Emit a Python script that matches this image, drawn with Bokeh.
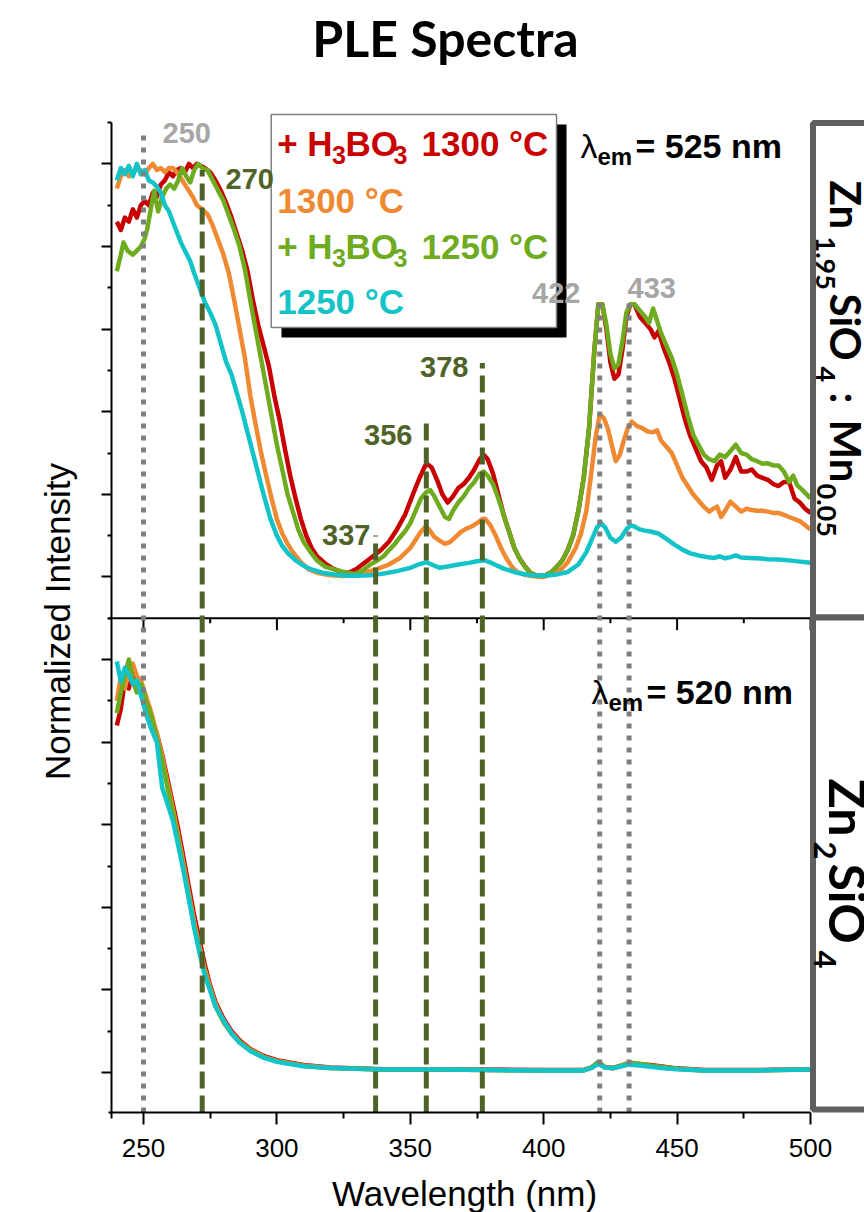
import math
from bokeh.plotting import figure
from bokeh.models import Range1d, FixedTicker, Label
from bokeh.embed import file_html
from bokeh.resources import INLINE

# ---------------- data ----------------
# top panel: Zn1.95SiO4:Mn0.05, lambda_em = 525 nm
red_top_x = [240, 241.5, 243, 244.5, 246, 247.5, 249, 250.5, 252, 253.5, 255, 256.5, 258, 259.5, 261, 262.5, 264, 265.5, 267, 268.5, 270, 271.5, 273, 275, 277, 279, 281, 283, 285, 287, 289, 291, 293, 295, 297, 299, 301, 303, 305, 307, 309, 311, 313, 315, 318, 321, 324, 327, 330, 333, 336, 339, 342, 345, 348, 351, 353.5, 356, 358, 360, 362, 364, 366, 368, 370, 372, 374, 376, 377.5, 379, 381, 383, 385, 387, 389, 391, 393, 395, 397, 399, 401, 403, 405, 407, 409, 411, 413, 415, 417, 419, 420.5, 422, 423.5, 425, 426.5, 428, 429.5, 431, 432.5, 434, 436, 438, 440, 441.5, 443, 445, 447, 449, 451, 453, 455, 457, 459, 461, 463, 465, 466.5, 468, 470, 472, 474, 476, 478, 480, 482, 484, 486, 488, 490, 492, 494, 496, 498, 500]
red_top_y = [0.86, 0.84, 0.87, 0.86, 0.89, 0.87, 0.90, 0.91, 0.90, 0.93, 0.92, 0.95, 0.96, 0.98, 0.97, 0.985, 0.99, 0.98, 1.0, 0.99, 1.0, 0.995, 0.99, 0.98, 0.96, 0.935, 0.905, 0.87, 0.83, 0.79, 0.74, 0.67, 0.61, 0.56, 0.51, 0.44, 0.38, 0.31, 0.245, 0.19, 0.14, 0.10, 0.07, 0.05, 0.033, 0.02, 0.012, 0.01, 0.02, 0.035, 0.05, 0.065, 0.085, 0.115, 0.15, 0.2, 0.24, 0.275, 0.265, 0.235, 0.2, 0.18, 0.195, 0.215, 0.225, 0.24, 0.26, 0.285, 0.296, 0.285, 0.25, 0.2, 0.15, 0.11, 0.07, 0.044, 0.025, 0.01, 0.004, 0.002, 0.005, 0.012, 0.025, 0.04, 0.065, 0.1, 0.16, 0.24, 0.36, 0.55, 0.66, 0.66, 0.6, 0.52, 0.48, 0.49, 0.55, 0.63, 0.66, 0.66, 0.63, 0.615, 0.60, 0.58, 0.595, 0.554, 0.52, 0.48, 0.43, 0.38, 0.34, 0.31, 0.28, 0.265, 0.235, 0.27, 0.28, 0.24, 0.26, 0.29, 0.255, 0.255, 0.26, 0.245, 0.24, 0.235, 0.225, 0.22, 0.23, 0.23, 0.19, 0.18, 0.165, 0.155]

orange_top_x = [240, 241.5, 243, 244.5, 246, 247.5, 249, 250.5, 252, 253.5, 255, 256.5, 258, 259.5, 261, 262.5, 264, 265.5, 267, 268.5, 270, 272, 274, 276, 278, 280, 282, 284, 286, 288, 290, 292, 294, 296, 298, 300, 302, 304, 306, 309, 312, 315, 320, 325, 330, 334, 338, 342, 346, 350, 352, 354, 355.7, 357, 359, 361, 363, 365, 367, 369, 371, 373, 375, 377, 378, 380, 382, 384, 386, 388, 390, 393, 397, 400, 403, 406, 409, 412, 414, 416, 418, 419.5, 421, 422.5, 424, 425.5, 427, 428.5, 430, 431.5, 433, 435, 437, 439, 441, 442.5, 444, 446, 448, 450, 452, 454, 456, 458, 460, 462, 463.5, 465, 466.5, 468, 470, 472, 474, 476, 478, 480, 482, 484, 486, 488, 490, 492, 494, 496, 498, 500]
orange_top_y = [0.94, 0.97, 0.985, 0.97, 0.975, 0.99, 0.985, 0.975, 0.99, 1.0, 0.985, 0.99, 0.98, 0.99, 0.99, 0.98, 0.966, 0.95, 0.935, 0.92, 0.90, 0.89, 0.878, 0.85, 0.815, 0.78, 0.735, 0.67, 0.6, 0.53, 0.44, 0.37, 0.303, 0.245, 0.19, 0.14, 0.105, 0.08, 0.06, 0.035, 0.018, 0.01, 0.004, 0.002, 0.006, 0.012, 0.02, 0.03, 0.045, 0.07, 0.09, 0.11, 0.121, 0.115, 0.097, 0.088, 0.08, 0.085, 0.097, 0.109, 0.117, 0.122, 0.13, 0.14, 0.141, 0.125, 0.1, 0.07, 0.045, 0.025, 0.012, 0.005, 0.001, 0.0, 0.006, 0.015, 0.035, 0.07, 0.105, 0.16, 0.26, 0.34, 0.393, 0.385, 0.36, 0.32, 0.28, 0.295, 0.33, 0.36, 0.376, 0.365, 0.36, 0.352, 0.35, 0.355, 0.33, 0.315, 0.3, 0.27, 0.24, 0.22, 0.2, 0.185, 0.17, 0.158, 0.165, 0.17, 0.145, 0.16, 0.182, 0.17, 0.158, 0.165, 0.162, 0.16, 0.16, 0.158, 0.155, 0.155, 0.15, 0.145, 0.14, 0.135, 0.125, 0.115]

green_top_x = [240, 241.5, 242.5, 244, 246, 247.5, 249, 250.5, 251.5, 253, 254, 255.5, 257, 258.5, 260, 261.5, 263, 264.5, 266, 267.5, 269, 270.5, 272, 274, 276, 278, 280, 282, 284, 286, 288, 290, 292, 294, 296, 298, 300, 302, 304, 306, 308, 310, 312.6, 315, 318, 322, 326, 329, 332, 335, 337, 340, 342, 344, 346, 348, 350, 352, 354, 356, 357.5, 359, 361, 363, 364.5, 366, 368, 370, 372, 374, 376, 377.5, 379, 381, 383, 385, 387, 389, 391, 393, 395, 397, 399, 401, 403, 405, 407, 409, 411, 413, 415, 417, 419, 420.5, 422, 423.5, 425, 426.5, 428, 429.5, 431, 432.5, 434, 436, 438, 439.5, 441, 442.5, 444, 446, 448, 450, 452, 454, 456, 458, 460, 462, 464, 466, 468, 470, 472, 474, 476, 478, 480, 482, 484, 486, 488, 490, 492, 493.5, 495, 497, 500]
green_top_y = [0.74, 0.78, 0.81, 0.79, 0.78, 0.79, 0.80, 0.82, 0.845, 0.90, 0.935, 0.885, 0.92, 0.94, 0.95, 0.94, 0.96, 0.99, 0.97, 0.955, 0.985, 1.0, 0.99, 0.985, 0.96, 0.935, 0.91, 0.875, 0.84, 0.8, 0.745, 0.67, 0.6, 0.53, 0.46, 0.39, 0.32, 0.26, 0.2, 0.158, 0.115, 0.085, 0.06, 0.04, 0.025, 0.017, 0.01, 0.007, 0.015, 0.03, 0.037, 0.05, 0.065, 0.078, 0.095, 0.11, 0.13, 0.16, 0.19, 0.205, 0.21, 0.195, 0.17, 0.145, 0.14, 0.16, 0.18, 0.195, 0.215, 0.23, 0.25, 0.255, 0.245, 0.225, 0.19, 0.15, 0.11, 0.07, 0.044, 0.024, 0.01, 0.004, 0.002, 0.005, 0.012, 0.025, 0.04, 0.065, 0.1, 0.16, 0.24, 0.36, 0.55, 0.66, 0.66, 0.61, 0.54, 0.505, 0.515, 0.57, 0.64, 0.66, 0.66, 0.645, 0.63, 0.615, 0.65, 0.62, 0.59, 0.56, 0.53, 0.49, 0.44, 0.39, 0.345, 0.32, 0.296, 0.285, 0.28, 0.296, 0.29, 0.305, 0.32, 0.3, 0.296, 0.285, 0.28, 0.274, 0.275, 0.27, 0.27, 0.255, 0.23, 0.245, 0.222, 0.21, 0.19]

cyan_top_x = [240, 241.5, 243, 244.5, 246, 247.5, 249, 250.5, 252, 253.5, 255, 256.5, 258, 259.5, 261, 262.5, 264, 265.5, 267.5, 269, 271, 273, 275, 277, 279, 281, 283, 285, 287, 289, 291, 293, 295, 297.6, 300, 302, 304, 307, 310, 313, 317, 322, 326, 330, 335, 340, 345, 350, 353, 356, 358, 361, 364, 368, 372, 375, 378, 381, 385, 390, 395, 400, 405, 409, 413, 416, 418, 420, 421.5, 423, 425, 427, 429, 431, 432.5, 434, 436, 438, 440, 443, 446, 449, 452, 455, 458, 461, 464, 466, 468, 470, 472, 474, 477, 480, 484, 488, 492, 496, 500]
cyan_top_y = [0.96, 0.99, 0.975, 0.995, 0.97, 1.0, 0.975, 0.985, 0.96, 0.955, 0.945, 0.93, 0.9, 0.886, 0.86, 0.835, 0.81, 0.79, 0.765, 0.735, 0.70, 0.665, 0.64, 0.61, 0.565, 0.52, 0.49, 0.445, 0.4, 0.35, 0.30, 0.25, 0.2, 0.14, 0.1, 0.075, 0.058, 0.04, 0.027, 0.018, 0.01, 0.005, 0.003, 0.003, 0.004, 0.008, 0.014, 0.022, 0.03, 0.035, 0.03, 0.022, 0.025, 0.03, 0.034, 0.038, 0.04, 0.032, 0.02, 0.01, 0.004, 0.003, 0.006, 0.012, 0.03, 0.06, 0.09, 0.12, 0.13, 0.12, 0.095, 0.085, 0.095, 0.115, 0.125, 0.122, 0.115, 0.112, 0.11, 0.105, 0.092, 0.078, 0.066, 0.057, 0.052, 0.048, 0.046, 0.05, 0.045, 0.048, 0.052, 0.047, 0.046, 0.045, 0.043, 0.042, 0.04, 0.037, 0.034]

# bottom panel: Zn2SiO4, lambda_em = 520 nm
bot_x = [240, 241.5, 243, 244.5, 246, 247.5, 249, 251, 253, 255, 257, 259, 261, 263, 265, 267, 269, 271, 273, 275, 277, 280, 283, 286, 290, 295, 300, 310, 320, 340, 360, 380, 400, 415, 418, 420.5, 423, 426, 429, 432, 436, 440, 445, 450, 460, 480, 500]
red_bot_y = [0.84, 0.88, 0.95, 0.93, 0.97, 0.94, 0.93, 0.90, 0.86, 0.82, 0.77, 0.71, 0.65, 0.59, 0.52, 0.45, 0.38, 0.32, 0.26, 0.21, 0.17, 0.13, 0.10, 0.078, 0.057, 0.04, 0.03, 0.018, 0.012, 0.008, 0.008, 0.007, 0.006, 0.006, 0.012, 0.024, 0.013, 0.011, 0.016, 0.022, 0.02, 0.018, 0.014, 0.01, 0.006, 0.006, 0.008]
orange_bot_y = [0.90, 0.96, 0.93, 0.97, 0.99, 0.96, 0.95, 0.91, 0.87, 0.82, 0.765, 0.70, 0.64, 0.575, 0.505, 0.435, 0.365, 0.305, 0.25, 0.205, 0.165, 0.125, 0.096, 0.075, 0.055, 0.038, 0.028, 0.017, 0.011, 0.007, 0.007, 0.006, 0.005, 0.005, 0.012, 0.023, 0.012, 0.01, 0.015, 0.021, 0.019, 0.016, 0.012, 0.009, 0.005, 0.005, 0.007]
green_bot_y = [0.87, 0.92, 0.96, 1.0, 0.95, 0.92, 0.94, 0.90, 0.86, 0.81, 0.755, 0.69, 0.63, 0.565, 0.495, 0.425, 0.355, 0.295, 0.24, 0.2, 0.16, 0.122, 0.094, 0.074, 0.054, 0.037, 0.027, 0.016, 0.011, 0.007, 0.007, 0.006, 0.005, 0.005, 0.013, 0.026, 0.013, 0.011, 0.017, 0.024, 0.021, 0.017, 0.013, 0.009, 0.005, 0.005, 0.008]
cyan_bot_y = [0.995, 0.947, 0.98, 0.964, 0.94, 0.95, 0.915, 0.867, 0.83, 0.80, 0.69, 0.65, 0.61, 0.55, 0.488, 0.42, 0.35, 0.29, 0.235, 0.198, 0.16, 0.126, 0.095, 0.072, 0.052, 0.036, 0.026, 0.015, 0.011, 0.007, 0.007, 0.006, 0.005, 0.005, 0.011, 0.021, 0.012, 0.01, 0.015, 0.019, 0.017, 0.014, 0.01, 0.008, 0.005, 0.005, 0.007]

series_names = ["+ H3BO3 1300 °C", "1300 °C", "+ H3BO3 1250 °C", "1250 °C"]
series_colors = ["#c80000", "#f08a32", "#6fab1f", "#12c3c8"]

# reference wavelengths
dotted_nm = [250, 421, 432]
dotted_labels = ["250", "422", "433"]
dotted_tops = [1.073, 0.675, 0.675]
dashed_nm = [272, 337, 356, 377]
dashed_labels = ["270", "337", "356", "378"]
dashed_tops = [0.985, 0.10, 0.38, 0.518]

x_major = [250, 300, 350, 400, 450, 500]
x_minor = [275, 325, 375, 425, 475]
y_major = [0.0, 0.2, 0.4, 0.6, 0.8, 1.0]
y_minor = [0.1, 0.3, 0.5, 0.7, 0.9, 1.1]

# ---------------- geometry (frame = whole canvas, axes at fixed locations) ----------------
W, H = 864, 1212
SX = (810 - 143) / 250.0          # px per nm
SY = 413.0                        # px per intensity unit
OFF = 1.2                         # top panel sits 1.2 units above the bottom panel


def XD(px):
    return 250 + (px - 143) / SX


def YD(py):
    return (1072 - py) / SY


X0, X1 = XD(0), XD(W)
Y0, Y1 = YD(H), YD(0)
AXIS_X, AXIS_Y = XD(111), YD(1112)

p = figure(width=W, height=H, x_range=Range1d(X0, X1), y_range=Range1d(Y0, Y1),
           output_backend="svg", toolbar_location=None, title=None, min_border=0)
p.extra_y_ranges = {"top": Range1d(Y0 - OFF, Y1 - OFF)}
p.outline_line_color = None
p.xgrid.visible = False
p.ygrid.visible = False
p.background_fill_color = "white"
p.border_fill_color = "white"

# axes
xa = p.xaxis[0]
xa.fixed_location = AXIS_Y
xa.ticker = FixedTicker(ticks=x_major, minor_ticks=x_minor)
xa.bounds = (XD(108), x_major[-1])
xa.axis_line_width = 2
xa.major_tick_line_width = 2
xa.minor_tick_line_width = 2
xa.major_tick_out = 12
xa.major_tick_in = 0
xa.minor_tick_out = 6
xa.minor_tick_in = 0
xa.major_label_text_font = "Liberation Sans"
xa.major_label_text_font_size = "26px"
xa.major_label_text_color = "black"
xa.major_label_standoff = 14

ya = p.yaxis[0]
ya.fixed_location = AXIS_X
ya.ticker = FixedTicker(ticks=y_major + [v + OFF for v in y_major],
                        minor_ticks=y_minor + [v + OFF for v in y_minor])
ya.bounds = (YD(1118), y_minor[-1] + OFF)
ya.axis_line_width = 2
ya.major_tick_line_width = 2
ya.minor_tick_line_width = 2
ya.major_tick_out = 10
ya.major_tick_in = 0
ya.minor_tick_out = 4
ya.minor_tick_in = 0
ya.major_label_text_font_size = "8px"
ya.major_label_text_color = None

# separator axis between panels (bottom of top panel)
sep_y = y_minor[-1]
p.segment(x0=[XD(108)], x1=[x_major[-1]], y0=[sep_y], y1=[sep_y], line_color="black", line_width=2)
p.segment(x0=x_major, x1=x_major, y0=[sep_y] * len(x_major), y1=[sep_y - 12 / SY] * len(x_major),
          line_color="black", line_width=2)
p.segment(x0=x_minor, x1=x_minor, y0=[sep_y] * len(x_minor), y1=[sep_y - 5 / SY] * len(x_minor),
          line_color="black", line_width=2)

# curves
top_sets = [(red_top_x, red_top_y), (orange_top_x, orange_top_y), (green_top_x, green_top_y), (cyan_top_x, cyan_top_y)]
for (xs, ys), c in zip(top_sets, series_colors):
    p.line(xs, ys, line_color=c, line_width=4.5, y_range_name="top", line_join="round")
for ys, c in zip([red_bot_y, orange_bot_y, green_bot_y, cyan_bot_y], series_colors):
    p.line(bot_x, ys, line_color=c, line_width=4.5, line_join="round")

# reference lines
line_bottom = AXIS_Y - OFF
p.segment(x0=dotted_nm, x1=dotted_nm, y0=[line_bottom] * 3, y1=dotted_tops, y_range_name="top",
          line_color="#7f7f7f", line_width=5, line_dash="5 7")
p.segment(x0=dashed_nm, x1=dashed_nm, y0=[line_bottom] * 4, y1=dashed_tops, y_range_name="top",
          line_color="#4f6228", line_width=5, line_dash="17 7")

# right-hand sample boxes
p.quad(left=[XD(812.5)], right=[X1 + 5], top=[YD(122.5)], bottom=[YD(617)],
       fill_color="white", line_color="#5f5f5f", line_width=6)
p.quad(left=[XD(812.5)], right=[X1 + 5], top=[YD(617)], bottom=[YD(1109)],
       fill_color="white", line_color="#5f5f5f", line_width=6)

# legend box with shadow
p.quad(left=[XD(281)], right=[XD(566)], top=[YD(124)], bottom=[YD(337)], fill_color="black", line_color=None)
p.quad(left=[XD(270.7)], right=[XD(556)], top=[YD(114)], bottom=[YD(327)],
       fill_color="white", line_color="#7f7f7f", line_width=1.5)


def lab(px, py, text, size, color="black", font="Liberation Sans", style="bold", align="left",
        base=True, angle=0.0):
    """Place a label; (px, py) is the alphabetic baseline point when base=True, else the middle."""
    if base:
        if angle == 0.0:
            py = py - 0.35 * size
        elif angle < 0:
            px = px + 0.35 * size
        else:
            px = px - 0.35 * size
    p.add_layout(Label(x=XD(px), y=YD(py), text=text, text_font=font, text_font_size=f"{size}px",
                       text_font_style=style, text_color=color, text_align=align,
                       text_baseline="middle", angle=angle))


# legend entries
leg_base = [155, 212, 258, 313]
for name, c, yb in zip(series_names, series_colors, leg_base):
    temp = name.split()[-2] + " °C"
    if name.startswith("+"):
        lab(276.7, yb, "+ H", 35, c)
        lab(331.5, yb + 8, "3", 25, c)
        lab(345, yb, "BO", 35, c)
        lab(393, yb + 8, "3", 25, c)
        lab(421, yb, temp, 35, c)
    else:
        lab(276.7, yb, temp, 35, c)

# reference-line labels
gray_lab = "#a6a6a6"
green_lab = "#4f6228"
lab(162, 132, dotted_labels[0], 29, gray_lab, base=False)
lab(580, 292, dotted_labels[1], 29, gray_lab, align="right", base=False)
lab(627, 287, dotted_labels[2], 29, gray_lab, base=False)
lab(225, 178, dashed_labels[0], 29, green_lab, base=False)
lab(370, 534, dashed_labels[1], 29, green_lab, align="right", base=False)
lab(412, 434, dashed_labels[2], 29, green_lab, align="right", base=False)
lab(468, 366, dashed_labels[3], 29, green_lab, align="right", base=False)

# emission wavelength notes
for (x0, yb, txt) in [(580, 157, "= 525 nm"), (591, 703, "= 520 nm")]:
    lab(x0, yb, "λ", 34, "black", style="normal")
    lab(x0 + 17, yb + 7, "em", 24, "black")
    lab(x0 + 55, yb, txt, 34, "black")

# sample names (rotated, reading top to bottom)
rot = -math.pi / 2
box_font = "Lato"
for (py, px, txt, size) in [(180, 831, "Zn", 42), (236, 816, "1.95", 27), (293, 831, "SiO", 42),
                            (366, 816, "4", 27), (392, 831, ":", 42), (419, 831, "Mn", 42),
                            (483, 817, "0.05", 27)]:
    lab(px, py, txt, size, "black", font=box_font, angle=rot)
for (py, px, txt, size) in [(778, 830, "Zn", 50), (841, 814, "2", 31), (863, 830, "SiO", 50),
                            (950, 814, "4", 31)]:
    lab(px, py, txt, size, "black", font=box_font, angle=rot)

# title and axis titles
lab(445, 55, "PLE Spectra", 50, "black", font="Lato", align="center")
lab(69, 621, "Normalized Intensity", 35, "black", style="normal", align="center", angle=math.pi / 2)
lab(464, 1205, "Wavelength (nm)", 35, "black", style="normal", align="center")

open("out.html", "w").write(file_html(p, INLINE))
